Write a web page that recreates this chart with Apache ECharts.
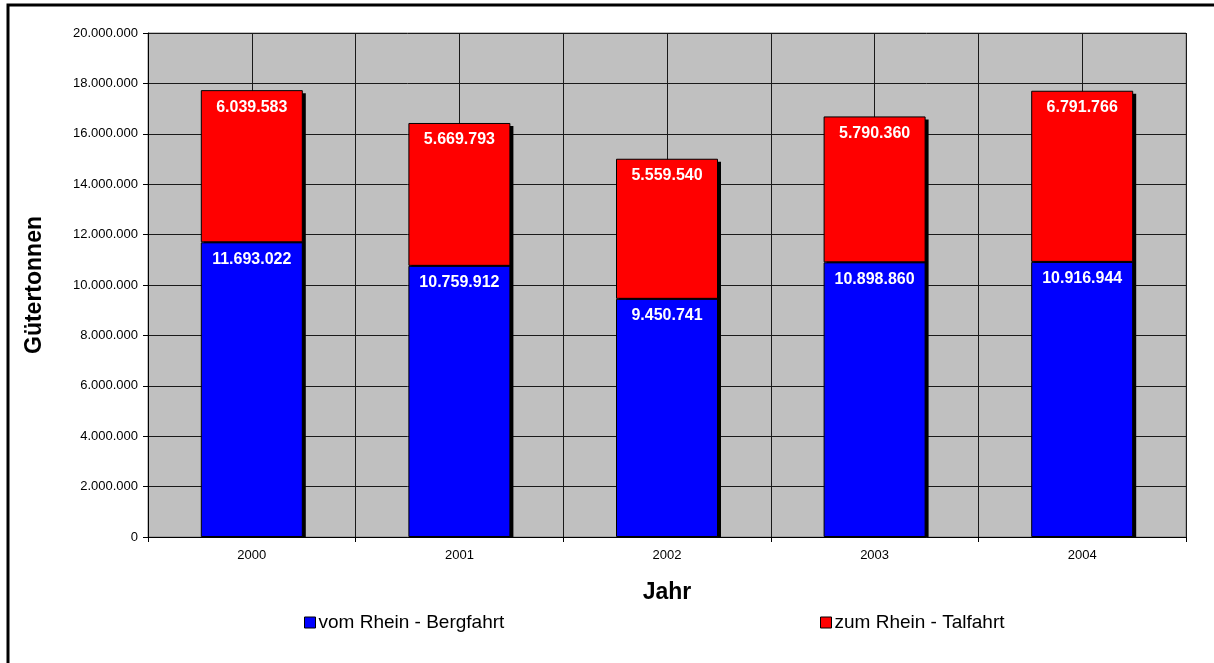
<!DOCTYPE html>
<html>
<head>
<meta charset="utf-8">
<script src="https://cdn.jsdelivr.net/npm/echarts@6/dist/echarts.min.js"></script>
<style>
  html, body { margin: 0; padding: 0; background: #fff; }
  #chart { width: 1214px; height: 663px; }
</style>
</head>
<body>
<div id="chart"></div>
<script>
var jahre = ['2000', '2001', '2002', '2003', '2004'];
var bergfahrt = [11693022, 10759912, 9450741, 10898860, 10916944];
var talfahrt = [6039583, 5669793, 5559540, 5790360, 6791766];
var nameBerg = 'vom Rhein - Bergfahrt';
var nameTal = 'zum Rhein - Talfahrt';

var BAR_W = 102;

function punkte(v) {
    return String(v).replace(/\B(?=(\d{3})+(?!\d))/g, '.');
}

// Summe je Jahr -> fuer den Schlagschatten hinter den Saeulen
var summen = bergfahrt.map(function (v, i) { return [i, v + talfahrt[i]]; });

var myChart = echarts.init(document.getElementById('chart'));

var labelStyle = {
    show: true,
    position: 'insideTop',
    distance: 9,
    color: '#fff',
    fontFamily: 'Arial',
    fontWeight: 'bold',
    fontSize: 16,
    formatter: function (p) { return punkte(p.value); }
};

var legendBase = {
    itemWidth: 11, itemHeight: 11, icon: 'rect',
    itemStyle: { borderColor: '#000', borderWidth: 1 },
    textStyle: { fontSize: 19, color: '#000', fontFamily: 'Arial', padding: [0, 0, 0, -2] }
};

myChart.setOption({
    animation: false,
    textStyle: { fontFamily: 'Arial' },
    graphic: [{
        type: 'rect',
        shape: { x: 8, y: 5, width: 1220, height: 670 },
        style: { fill: 'none', stroke: '#000', lineWidth: 3 },
        silent: true
    }],
    grid: {
        left: 148, top: 33, right: 28, bottom: 126,
        show: true,
        backgroundColor: '#c0c0c0',
        borderColor: '#808080',
        borderWidth: 1
    },
    legend: [
        Object.assign({ data: [nameBerg], left: 299, top: 608 }, legendBase),
        Object.assign({ data: [nameTal], left: 815, top: 608 }, legendBase)
    ],
    xAxis: [{
        type: 'category',
        data: jahre,
        name: 'Jahr',
        nameLocation: 'middle',
        nameGap: 44,
        nameTextStyle: { fontSize: 23, fontWeight: 'bold', color: '#000' },
        axisLine: { lineStyle: { color: '#000' } },
        axisTick: { show: true, length: 5, lineStyle: { color: '#000' } },
        axisLabel: { fontSize: 13, color: '#000', margin: 12 },
        splitLine: { show: false }
    }, {
        // Hilfsachse fuer die senkrechten Gitterlinien (Grenzen und Mitten)
        type: 'value',
        min: 0, max: 10, interval: 1,
        show: true,
        position: 'top',
        axisLine: { show: false },
        axisTick: { show: false },
        axisLabel: { show: false },
        splitLine: { show: true, lineStyle: { color: '#1a1a1a', width: 1 } }
    }],
    yAxis: {
        type: 'value',
        min: 0, max: 20000000, interval: 2000000,
        name: 'Gütertonnen',
        nameLocation: 'middle',
        nameGap: 102,
        nameTextStyle: { fontSize: 23, fontWeight: 'bold', color: '#000' },
        axisLine: { show: true, lineStyle: { color: '#000' } },
        axisTick: { show: true, length: 5, lineStyle: { color: '#000' } },
        axisLabel: { fontSize: 13, color: '#000', margin: 10, formatter: punkte },
        splitLine: { show: true, lineStyle: { color: '#1a1a1a', width: 1 } }
    },
    series: [{
        type: 'custom',
        xAxisIndex: 0,
        z: 1,
        silent: true,
        data: summen,
        renderItem: function (params, api) {
            var oben = api.coord([api.value(0), api.value(1)]);
            var unten = api.coord([api.value(0), 0]);
            return {
                type: 'rect',
                shape: {
                    x: oben[0] - BAR_W / 2 + 3,
                    y: oben[1] + 3,
                    width: BAR_W,
                    height: unten[1] - oben[1] - 3
                },
                style: { fill: '#000' }
            };
        }
    }, {
        name: nameBerg,
        type: 'bar',
        stack: 'gesamt',
        xAxisIndex: 0,
        barWidth: BAR_W,
        z: 3,
        data: bergfahrt,
        itemStyle: { color: '#0000ff', borderColor: '#000', borderWidth: 1 },
        label: labelStyle
    }, {
        name: nameTal,
        type: 'bar',
        stack: 'gesamt',
        xAxisIndex: 0,
        barWidth: BAR_W,
        z: 3,
        data: talfahrt,
        itemStyle: { color: '#ff0000', borderColor: '#000', borderWidth: 1 },
        label: labelStyle
    }]
});
</script>
</body>
</html>
